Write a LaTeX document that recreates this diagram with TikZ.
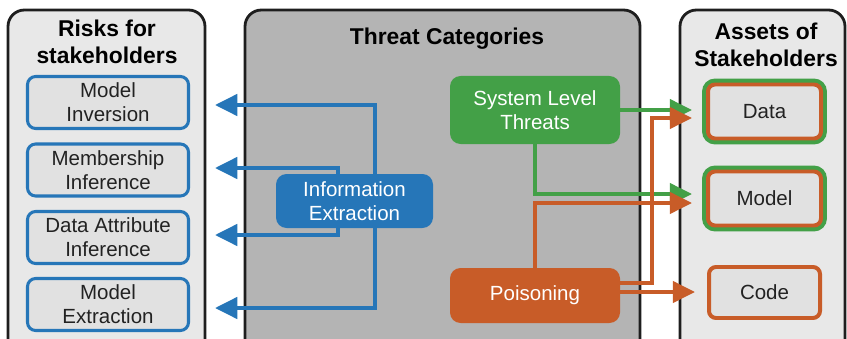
\documentclass[tikz,border=0pt]{standalone}
\usepackage{fontspec}
\setmainfont{Liberation Sans}
\usetikzlibrary{arrows.meta}

\definecolor{frame}{RGB}{30,30,30}
\definecolor{sidegray}{RGB}{232,232,232}
\definecolor{midgray}{RGB}{180,180,180}
\definecolor{boxgray}{RGB}{225,225,225}
\definecolor{ieblue}{RGB}{38,118,184}
\definecolor{sltgreen}{RGB}{67,160,71}
\definecolor{poisorange}{RGB}{200,92,40}
\definecolor{ink}{RGB}{34,34,34}

\tikzset{
	panel/.style={draw=frame, line width=2.4pt, rounded corners=14pt},
	title/.style={font=\fontsize{19.5}{23}\selectfont\bfseries, align=center, text=black},
	label/.style={font=\fontsize{17.5}{20.5}\selectfont, align=center, inner sep=0pt},
	risk/.style={label, draw=ieblue, fill=boxgray, text=ink, line width=2.6pt,
		rounded corners=7pt, minimum width=4.83cm, minimum height=1.56cm},
	threat/.style={label, text=white, rounded corners=9pt},
	asset/.style={label, draw=poisorange, fill=boxgray, text=ink, line width=3.4pt,
		rounded corners=6pt, minimum width=3.39cm, minimum height=1.62cm},
	ring/.style={preaction={draw=sltgreen, line width=10pt}},
	flow/.style={line width=3.6pt, -{Triangle[length=19pt,width=18pt]}},
}

\begin{document}
\begin{tikzpicture}[x=0.03cm, y=-0.03cm]
	\clip (0,0) rectangle (847,339);

	\draw[panel, fill=sidegray] (8,10) rectangle (205,360);
	\draw[panel, fill=midgray] (245,10) rectangle (640,360);
	\draw[panel, fill=sidegray] (680,10) rectangle (845,360);

	\node[title] (risktitle) at (107,42) {Risks for\\stakeholders};
	\node[title] (threattitle) at (447,39) {Threat Categories};
	\node[title] (assettitle) at (766,45) {Assets of\\Stakeholders};

	% risks
	\node[risk] (inv) at (108,102.5) {Model\\Inversion};
	\node[risk] (mem) at (108,170) {Membership\\Inference};
	\node[risk] (attr) at (108,237.5) {Data Attribute\\Inference};
	\node[risk] (extr) at (108,304.5) {Model\\Extraction};

	% threats
	\node[threat, fill=ieblue, minimum width=4.71cm, minimum height=1.62cm] (info) at (354.5,201) {Information\\Extraction};
	\node[threat, fill=sltgreen, minimum width=5.1cm, minimum height=2.04cm] (slt) at (535,110) {System Level\\Threats};
	\node[threat, fill=poisorange, minimum width=5.1cm, minimum height=1.65cm] (pois) at (535,295.5) {Poisoning};

	% assets
	\node[asset, ring] (data) at (764.5,111.5) {Data};
	\node[asset, ring] (model) at (764.5,198.5) {Model};
	\node[asset, minimum width=3.33cm, minimum height=1.53cm] (code) at (764.5,292.5) {Code};

	\coordinate (colA) at (375,0);
	\coordinate (colB) at (338,0);
	\coordinate (colC) at (652,0);

	\coordinate (t1) at (215,105);
	\coordinate (t2) at (215,168);
	\coordinate (t3) at (215,235);
	\coordinate (t4) at (215,308);

	\coordinate (g1) at (692,110);
	\coordinate (g2) at (692,194);
	\coordinate (o1) at (692,118);
	\coordinate (o2) at (692,203);
	\coordinate (o3) at (695,292);

	\draw[flow, ieblue] (info.north -| colA) |- (t1);
	\draw[flow, ieblue] (info.north -| colB) |- (t2);
	\draw[flow, ieblue] (info.south -| colB) |- (t3);
	\draw[flow, ieblue] (info.south -| colA) |- (t4);

	\draw[flow, sltgreen] (slt.east) -- (g1);
	\draw[flow, sltgreen] (slt.south) |- (g2);

	\draw[flow, poisorange] (pois.north) |- (o2);
	\draw[flow, poisorange] ([yshift=0.375cm]pois.east) -| (o1 -| colC) -- (o1);
	\draw[flow, poisorange] (o3 -| pois.east) -- (o3);
\end{tikzpicture}
\end{document}
